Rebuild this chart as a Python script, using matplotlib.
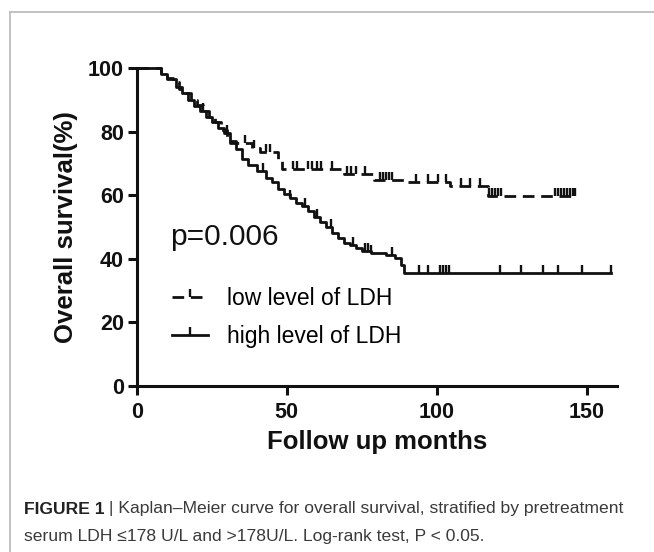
import numpy as np
import matplotlib
matplotlib.use("Agg")
import matplotlib.pyplot as plt
from matplotlib.lines import Line2D
from matplotlib.markers import TICKUP

plt.rcParams['font.family'] = ['Liberation Sans', 'DejaVu Sans']

# Kaplan-Meier steps (months, % surviving after the drop)
low_t = [0, 8, 10, 12, 14, 16, 18, 20, 22, 24, 26, 28, 30, 31, 38.5, 41, 47, 48.5,
         69, 79, 89, 104.5, 117, 146]
low_s = [100, 98.5, 97, 95.5, 93.5, 92, 90, 88.5, 86.5, 84.5, 83, 80.5, 78, 76.3,
         74.8, 73.6, 71, 68.3, 66.7, 64.8, 64.1, 62.8, 59.8, 59.8]
low_cens = [36, 39, 43, 44.5, 52, 53.5, 57, 58.5, 60, 61.5, 65, 70, 71.5, 73, 76,
            81, 82, 83, 84, 85, 93, 97, 100.5, 103, 108, 111, 114.5, 117.5, 118.5,
            119.5, 120.5, 121.5, 139.5, 140.5, 141.5, 142.5, 143.5, 144.5, 145.5, 146]

high_t = [0, 8, 10, 13, 15, 17, 19, 21, 23, 25, 27, 29, 31, 33, 35, 37, 40, 43, 45,
          47, 49, 51, 53, 55, 57, 59, 61, 63, 65, 67, 69, 71, 73, 75, 78, 83, 86,
          88, 89, 158]
high_s = [100, 98, 96.5, 94, 92, 90, 88, 86.5, 84.5, 83, 81, 79.5, 77, 74.5, 71.5,
          69.5, 67.5, 65.5, 64, 62, 60.5, 59, 57.5, 56.5, 55, 53, 51.5, 50, 48, 46.5,
          45, 44.5, 43.5, 42.5, 41.8, 41.2, 40.2, 38, 35.6, 35.6]
high_cens = [22, 30, 42, 51, 56, 60, 64.8, 72, 76, 77, 78, 85, 94, 97, 101, 102,
             103, 104, 121, 128, 135.5, 140.5, 148.5, 158]

x_ticks = [0, 50, 100, 150]
y_ticks = [0, 20, 40, 60, 80, 100]
labels = ['low level of LDH', 'high level of LDH']


def surv_at(t, s, when):
    idx = np.searchsorted(t, when, side='right') - 1
    return np.asarray(s)[idx]


fig = plt.figure(figsize=(6.54, 5.52), dpi=100)
ax = fig.add_axes([0.209, 0.3007, 0.734, 0.5761])

ink = '#111111'
lw = 2.0
dash = (0, (4.2, 2.4))
ax.step(low_t, low_s, where='post', color=ink, lw=lw, ls=dash, clip_on=False)
ax.step(high_t, high_s, where='post', color=ink, lw=lw, clip_on=False)
ax.plot(low_cens, surv_at(low_t, low_s, low_cens), ls='none', marker=TICKUP,
        ms=6, mew=1.7, color=ink, clip_on=False)
ax.plot(high_cens, surv_at(high_t, high_s, high_cens), ls='none', marker=TICKUP,
        ms=6, mew=1.7, color=ink, clip_on=False)

ax.set_xlim(0, 160)
ax.set_ylim(0, 100)
ax.set_xticks(x_ticks)
ax.set_yticks(y_ticks)
for side in ['top', 'right']:
    ax.spines[side].set_visible(False)
for side in ['left', 'bottom']:
    ax.spines[side].set_linewidth(2.2)
    ax.spines[side].set_color(ink)
ax.tick_params(direction='out', length=6.8, width=2.2, color=ink, labelsize=15.5)
ax.tick_params(axis='x', pad=4.5)
ax.tick_params(axis='y', pad=2.5)
for lab in ax.get_xticklabels() + ax.get_yticklabels():
    lab.set_fontweight('bold')
    lab.set_color(ink)

ax.set_xlabel('Follow up months', fontsize=18.5, fontweight='bold', labelpad=5, color=ink)
ax.set_ylabel('Overall survival(%)', fontsize=18.5, fontweight='bold', labelpad=7, color=ink)

ax.text(0.07, 0.469, 'p=0.006', transform=ax.transAxes, fontsize=21.5,
        va='center', ha='left', color=ink)

handles = [Line2D([], [], color=ink, lw=lw, ls=dash, marker=TICKUP, ms=6, mew=1.7),
           Line2D([], [], color=ink, lw=lw, marker=TICKUP, ms=6, mew=1.7)]
ax.legend(handles, labels, loc='upper left', bbox_to_anchor=(0.0735, 0.312),
          frameon=False, fontsize=16.5, handlelength=1.57, handletextpad=0.83,
          borderpad=0, borderaxespad=0, labelspacing=0.68, numpoints=1)

# page frame lines
fig.add_artist(Line2D([10 / 654, 1], [1 - 12 / 552, 1 - 12 / 552], color='#bdbdbd', lw=1.3))
fig.add_artist(Line2D([10 / 654, 10 / 654], [0, 1 - 12 / 552], color='#bdbdbd', lw=1.3))

# caption
cap_size = 12.6
t1 = fig.text(24 / 654, 1 - 509 / 552, 'FIGURE 1', fontsize=cap_size, fontweight='bold',
              color='#222222', va='center', ha='left')
fig.canvas.draw()
bb = t1.get_window_extent(fig.canvas.get_renderer())
x_after = bb.x1 / fig.bbox.width
fig.text(x_after, 1 - 509 / 552,
         ' | Kaplan\u2013Meier curve for overall survival, stratified by pretreatment',
         fontsize=cap_size, color='#3a3a3a', va='center', ha='left')
fig.text(24 / 654, 1 - 537 / 552,
         'serum LDH \u2264178 U/L and >178U/L. Log-rank test, P < 0.05.',
         fontsize=cap_size, color='#3a3a3a', va='center', ha='left')

fig.savefig('out.png', dpi=100)
